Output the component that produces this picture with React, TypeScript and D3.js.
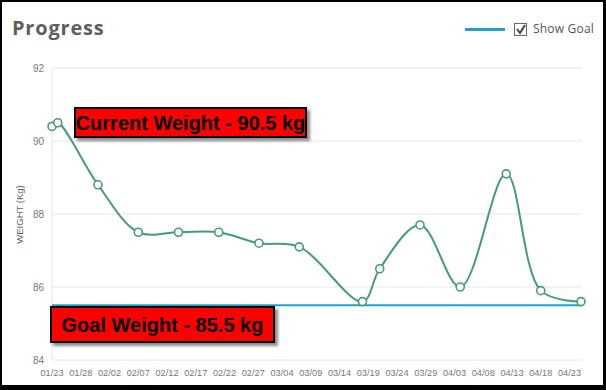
import React from "react";
import * as d3 from "d3";

const dates: string[] = [
  "2017-01-23", "2017-01-24", "2017-01-31", "2017-02-07", "2017-02-14", "2017-02-21",
  "2017-02-28", "2017-03-07", "2017-03-18", "2017-03-21", "2017-03-28", "2017-04-04",
  "2017-04-12", "2017-04-18", "2017-04-25",
];
const weights: number[] = [90.4, 90.5, 88.8, 87.5, 87.5, 87.5, 87.2, 87.1, 85.6, 86.5, 87.7, 86.0, 89.1, 85.9, 85.6];
const goalWeight = 85.5;
const currentWeight = 90.5;
const yTicks: number[] = [84, 86, 88, 90, 92];
const xTickLabels: string[] = [
  "01/23", "01/28", "02/02", "02/07", "02/12", "02/17", "02/22", "02/27", "03/04", "03/09",
  "03/14", "03/19", "03/24", "03/29", "04/03", "04/08", "04/13", "04/18", "04/23",
];
const title = "Progress";
const yLabel = "WEIGHT (Kg)";
const legendLabel = "Show Goal";

const W = 606;
const H = 390;
const parse = d3.timeParse("%Y-%m-%d");

export default function App() {
  const data = dates.map((d, i) => ({ date: parse(d) as Date, v: weights[i] }));
  const x = d3
    .scaleTime()
    .domain([parse("2017-01-23") as Date, parse("2017-04-25") as Date])
    .range([52, 581]);
  const y = d3.scaleLinear().domain([84, 92]).range([360, 68]);
  const line = d3
    .line<{ date: Date; v: number }>()
    .x((d) => x(d.date))
    .y((d) => y(d.v))
    .curve(d3.curveCatmullRom.alpha(0.5));
  const tickDates = xTickLabels.map((t) => parse("2017-" + t.replace("/", "-")) as Date);
  const green = "#459d71";
  const blue = "#1ea2c8";
  const axisFont = "'Liberation Sans', Arial, sans-serif";

  return (
    <svg
      width={W}
      height={H}
      style={{ position: "absolute", left: 0, top: 0, display: "block" }}
    >
      <defs>
        <filter id="sh" x="-10%" y="-30%" width="130%" height="180%">
          <feDropShadow dx="3" dy="3" stdDeviation="1.5" floodColor="#000" floodOpacity="0.45" />
        </filter>
      </defs>
      <rect x={0} y={0} width={W} height={H} fill="#000" />
      <rect x={2} y={2} width={601} height={383} fill="#fff" />

      <text
        x={12}
        y={35}
        fontFamily="'Open Sans', sans-serif"
        fontWeight={700}
        fontSize={20}
        letterSpacing={0.8}
        fill="#5e5e5e"
      >
        {title}
      </text>

      {/* legend */}
      <line x1={465} x2={505} y1={29.5} y2={29.5} stroke={blue} strokeWidth={3} />
      <rect x={514.5} y={23.5} width={12} height={12} fill="#fff" stroke="#666" strokeWidth={1} />
      <path d="M517,29 L520,33 L525,25" fill="none" stroke="#444" strokeWidth={2} />
      <text x={533} y={33} fontFamily="'Open Sans', sans-serif" fontSize={12} letterSpacing={0.2} fill="#555">
        {legendLabel}
      </text>

      {/* grid */}
      {yTicks.map((t) => (
        <g key={t}>
          <line x1={52} x2={582} y1={y(t)} y2={y(t)} stroke="#e6e6e6" strokeWidth={1} />
          <text
            x={44}
            y={y(t)}
            dy="0.35em"
            textAnchor="end"
            fontFamily={axisFont}
            fontSize={10}
            fill="#777"
          >
            {t}
          </text>
        </g>
      ))}
      <line x1={52} x2={52} y1={y(92)} y2={y(84)} stroke="#e6e6e6" strokeWidth={1} />

      {tickDates.map((d, i) => (
        <text
          key={i}
          x={x(d)}
          y={376}
          textAnchor="middle"
          fontFamily={axisFont}
          fontSize={9.2}
          fill="#777"
        >
          {xTickLabels[i]}
        </text>
      ))}

      <text
        transform={`translate(23,${214.5}) rotate(-90)`}
        textAnchor="middle"
        fontFamily={axisFont}
        fontSize={9.5}
        fill="#666"
      >
        {yLabel}
      </text>

      {/* goal line */}
      <line x1={52} x2={582} y1={y(goalWeight)} y2={y(goalWeight)} stroke={blue} strokeWidth={2} />

      {/* weight line */}
      <path d={line(data) || ""} fill="none" stroke={green} strokeWidth={2} />
      {data.map((d, i) => (
        <circle
          key={i}
          cx={x(d.date)}
          cy={y(d.v)}
          r={4}
          fill="#fff"
          stroke={green}
          strokeWidth={1.6}
        />
      ))}

      {/* annotations */}
      <g filter="url(#sh)">
        <rect x={75} y={108} width={231} height={29} fill="#ff0000" stroke="#000" strokeWidth={2} />
      </g>
      <text
        x={190.5}
        y={130}
        textAnchor="middle"
        fontFamily={axisFont}
        fontWeight={700}
        fontSize={20}
        fill="#000"
      >
        {`Current Weight - ${currentWeight} kg`}
      </text>
      <g filter="url(#sh)">
        <rect x={51} y={307} width={223} height={35} fill="#ff0000" stroke="#000" strokeWidth={2} />
      </g>
      <text
        x={162.5}
        y={332}
        textAnchor="middle"
        fontFamily={axisFont}
        fontWeight={700}
        fontSize={20}
        fill="#000"
      >
        {`Goal Weight - ${goalWeight} kg`}
      </text>
    </svg>
  );
}
